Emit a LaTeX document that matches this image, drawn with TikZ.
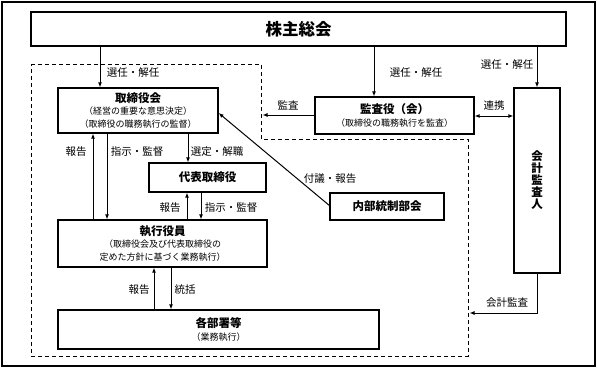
\documentclass[tikz,border=0pt]{standalone}
\usepackage{fontspec}
\setmainfont{Noto Sans CJK JP}
\usetikzlibrary{arrows.meta,calc}
\tikzset{
  box/.style={draw, line width=1.2pt, inner sep=0pt, align=center, fill=white,
    font=\fontsize{9pt}{12.5pt}\selectfont},
  arr/.style={line width=1pt, -{Latex[length=5pt,width=4pt]}},
  dbl/.style={line width=1pt, {Latex[length=5pt,width=4pt]}-{Latex[length=5pt,width=4pt]}},
  lbl/.style={font=\fontsize{10.5pt}{12pt}\selectfont, inner sep=0pt},
  ttl/.style={font=\bfseries\fontsize{11.5pt}{12.5pt}\selectfont},
}
\newcommand{\ttlfont}{\bfseries\fontsize{11.5pt}{12.5pt}\selectfont}
\begin{document}
\begin{tikzpicture}[x=1pt,y=-1pt]
\useasboundingbox (0,0) rectangle (597,368);
% outer frame
\draw[line width=1.3pt] (2,2) rectangle (595,366);
% dashed region
\draw[line width=0.8pt, dash pattern=on 4pt off 3pt] (31,64) -- (261,64) -- (261,139) -- (468,139) -- (468,356) -- (31,356) -- cycle;
% nodes
\node[box, minimum width=535pt, minimum height=34pt, font=\bfseries\fontsize{16.5pt}{18pt}\selectfont] (kabu) at (298.5,29) {株主総会};
\node[box, minimum width=160pt, minimum height=45pt] (tori) at (138,110.5)
  {{\ttlfont 取締役会}\\（経営の重要な意思決定）\\（取締役の職務執行の監督）};
\node[box, minimum width=159pt, minimum height=37pt] (kansa) at (394.5,115.5)
  {{\ttlfont 監査役（会）}\\（取締役の職務執行を監査）};
\node[box, minimum width=46pt, minimum height=185pt, font=\bfseries\fontsize{11.5pt}{12pt}\selectfont] (kaikei) at (537,180.5)
  {会\\計\\監\\査\\人};
\node[box, minimum width=117pt, minimum height=29pt, ttl] (daihyo) at (207.5,177.5) {代表取締役};
\node[box, minimum width=209pt, minimum height=47pt] (shikko) at (162.5,243.5)
  {{\ttlfont 執行役員}\\（取締役会及び代表取締役の\\定めた方針に基づく業務執行）};
\node[box, minimum width=321pt, minimum height=39pt] (kakubu) at (218.5,329.5)
  {{\ttlfont 各部署等}\\（業務執行）};
\node[box, minimum width=114pt, minimum height=27pt, ttl] (naibu) at (387,206.5) {内部統制部会};
% x reference coordinates
\coordinate (xa) at (100,0);
\coordinate (xb) at (374,0);
\coordinate (xc) at (537,0);
\coordinate (x1) at (93,0);
\coordinate (x2) at (107,0);
\coordinate (x3) at (188,0);
\coordinate (x4) at (187,0);
\coordinate (x5) at (201,0);
\coordinate (x6) at (154,0);
\coordinate (x7) at (171,0);
\coordinate (ya) at (0,116);
\coordinate (yb) at (0,115);
\coordinate (dl) at (262.5,115);
\coordinate (kc) at (537,313);
\coordinate (dr) at (469.5,313);
% arrows from 株主総会
\draw[arr] (kabu.south -| xa) -- (tori.north -| xa);
\draw[arr] (kabu.south -| xb) -- (kansa.north -| xb);
\draw[arr] (kabu.south -| xc) -- (kaikei.north -| xc);
% 連携
\draw[dbl] (kansa.east |- ya) -- (kaikei.west |- ya);
% 監査
\draw[arr] (kansa.west |- yb) -- (dl);
% 会計監査
\draw[arr] (kaikei.south) -- (kc) -- (dr);
% 取締役会 <-> 執行役員
\draw[arr] (shikko.north -| x1) -- (tori.south -| x1);
\draw[arr] (tori.south -| x2) -- (shikko.north -| x2);
% 選定・解職
\draw[arr] (tori.south -| x3) -- (daihyo.north -| x3);
% 代表 <-> 執行
\draw[arr] (shikko.north -| x4) -- (daihyo.south -| x4);
\draw[arr] (daihyo.south -| x5) -- (shikko.north -| x5);
% 執行 <-> 各部署
\draw[arr] (kakubu.north -| x6) -- (shikko.south -| x6);
\draw[arr] (shikko.south -| x7) -- (kakubu.north -| x7);
% 付議・報告
\draw[arr] ([yshift=1pt]naibu.west) -- ([yshift=-2.5pt]tori.east);
% labels
\node[lbl] (l1) at (133,73) {選任・解任};
\node[lbl] (l2) at (416,73) {選任・解任};
\node[lbl] (l3) at (507,65) {選任・解任};
\node[lbl] (l4) at (494,106) {連携};
\node[lbl] (l5) at (288,105) {監査};
\node[lbl] (l6) at (76,152) {報告};
\node[lbl] (l7) at (137,152) {指示・監督};
\node[lbl] (l8) at (217,152) {選定・解職};
\node[lbl] (l9) at (170,208) {報告};
\node[lbl] (l10) at (231,208) {指示・監督};
\node[lbl] (l11) at (330,179) {付議・報告};
\node[lbl] (l12) at (139,290) {報告};
\node[lbl] (l13) at (185,290) {統括};
\node[lbl] (l14) at (507,303) {会計監査};
\end{tikzpicture}
\end{document}
